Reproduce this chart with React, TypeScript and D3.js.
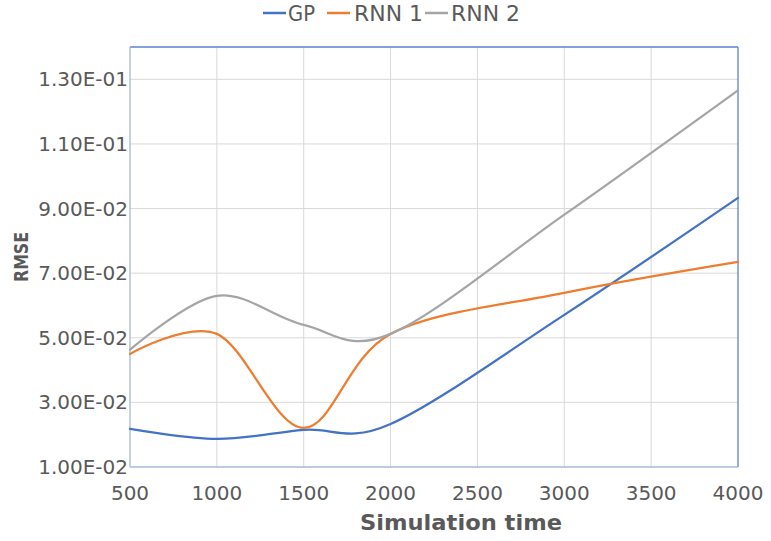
import React from "react";
import * as d3 from "d3";

const xValues = [500, 1000, 1500, 2000, 3000, 4000];
const gpValues = [0.0218, 0.0187, 0.0215, 0.0233, 0.0571, 0.0933];
const rnn1Values = [0.045, 0.0512, 0.0221, 0.0512, 0.0639, 0.0735];
const rnn2Values = [0.0463, 0.063, 0.054, 0.0512, 0.0881, 0.1266];
const seriesNames = ["GP", "RNN 1", "RNN 2"];
const seriesColors = ["#4472C4", "#ED7D31", "#A5A5A5"];
const xTicks = [500, 1000, 1500, 2000, 2500, 3000, 3500, 4000];
const yTicks = [0.01, 0.03, 0.05, 0.07, 0.09, 0.11, 0.13];

const W = 771;
const H = 541;
const L = 130, R = 738, T = 47, B = 467;

function fmtExp(v: number): string {
  const s = v.toExponential(2).toUpperCase(); // e.g. 1.30E-1
  const m = s.match(/^(-?[\d.]+)E([+-])(\d+)$/);
  if (!m) return s;
  return `${m[1]}E${m[2]}${m[3].padStart(2, "0")}`;
}

export default function App() {
  const x = d3.scaleLinear().domain([500, 4000]).range([L, R]);
  const y = d3.scaleLinear().domain([0.01, 0.14]).range([B, T]);
  const line = d3
    .line<[number, number]>()
    .x((d) => x(d[0]))
    .y((d) => y(d[1]))
    .curve(d3.curveCardinal.tension(0));
  const all = [gpValues, rnn1Values, rnn2Values];
  const textColor = "#595959";
  const font = "DejaVu Sans, sans-serif";

  const legendItems = [
    { lx: 263, tx: 288, tl: 27 },
    { lx: 327, tx: 354, tl: 69 },
    { lx: 425, tx: 451, tl: 69 },
  ];

  return (
    <svg
      width={W}
      height={H}
      style={{ position: "absolute", left: 0, top: 0, background: "#fff" }}
      fontFamily={font}
    >
      {/* gridlines */}
      {xTicks
        .filter((t) => t !== 500 && t !== 4000)
        .map((t) => (
          <line key={"gx" + t} x1={x(t)} x2={x(t)} y1={T} y2={B} stroke="#D9D9D9" strokeWidth={1} />
        ))}
      {yTicks
        .filter((t) => t !== 0.01)
        .map((t) => (
          <line key={"gy" + t} x1={L} x2={R} y1={y(t)} y2={y(t)} stroke="#D9D9D9" strokeWidth={1} />
        ))}
      {/* border */}
      <line x1={L} x2={R} y1={T} y2={T} stroke="#5B82CF" strokeWidth={1.3} />
      <line x1={R} x2={R} y1={T} y2={B} stroke="#5B82CF" strokeWidth={1.3} />
      <line x1={L} x2={L} y1={T} y2={B} stroke="#A9B8D9" strokeWidth={1.3} />
      <line x1={L} x2={R} y1={B} y2={B} stroke="#A9B8D9" strokeWidth={1.3} />

      {/* series */}
      {all.map((vals, i) => (
        <path
          key={"s" + i}
          d={line(xValues.map((xv, j) => [xv, vals[j]] as [number, number])) || ""}
          fill="none"
          stroke={seriesColors[i]}
          strokeWidth={2.25}
          strokeLinejoin="round"
          strokeLinecap="round"
        />
      ))}

      {/* y tick labels */}
      {yTicks.map((t) => (
        <text key={"yl" + t} x={L - 2} y={y(t) + 7} textAnchor="end" fontSize={20} fill={textColor}>
          {fmtExp(t)}
        </text>
      ))}
      {/* x tick labels */}
      {xTicks.map((t) => (
        <text key={"xl" + t} x={x(t)} y={500} textAnchor="middle" fontSize={20} fill={textColor}>
          {t}
        </text>
      ))}

      {/* axis titles */}
      <text
        x={461}
        y={530}
        textAnchor="middle"
        fontSize={21}
        fontWeight="bold"
        fill={textColor}
        textLength={202}
        lengthAdjust="spacingAndGlyphs"
      >
        Simulation time
      </text>
      <text
        transform={`translate(28,257) rotate(-90)`}
        textAnchor="middle"
        fontSize={20}
        fontWeight="bold"
        fill={textColor}
        textLength={50}
        lengthAdjust="spacingAndGlyphs"
      >
        RMSE
      </text>

      {/* legend */}
      {seriesNames.map((n, i) => (
        <g key={"lg" + i}>
          <line
            x1={legendItems[i].lx}
            x2={legendItems[i].lx + 23}
            y1={13}
            y2={13}
            stroke={seriesColors[i]}
            strokeWidth={2.5}
          />
          <text
            x={legendItems[i].tx}
            y={20.5}
            fontSize={21}
            fill={textColor}
            textLength={legendItems[i].tl}
            lengthAdjust="spacingAndGlyphs"
          >
            {n}
          </text>
        </g>
      ))}
    </svg>
  );
}
